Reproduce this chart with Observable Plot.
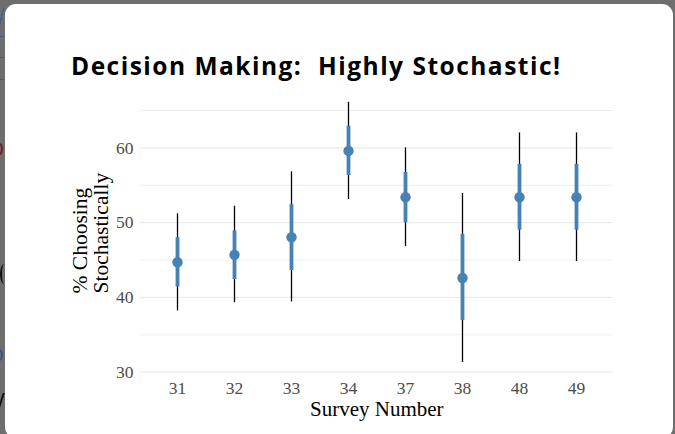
<!DOCTYPE html>
<html>
<head>
<meta charset="utf-8">
<script src="https://cdn.jsdelivr.net/npm/d3@7"></script>
<script src="https://cdn.jsdelivr.net/npm/@observablehq/plot@0.6"></script>
<style>
  html, body { margin: 0; padding: 0; }
  body { width: 675px; height: 434px; overflow: hidden; background: #6e6e6e; position: relative; font-family: "Liberation Serif", serif; }
  .frag { position: absolute; }
  #modal { position: absolute; left: 5px; top: 4px; width: 668px; height: 434px; background: #fff; border-radius: 11px; }
  #title { position: absolute; left: 71px; top: 51px; font-family: "Open Sans", sans-serif; font-weight: 700; font-size: 24.5px; line-height: 30px; white-space: pre; color: #000; display: inline-block; }
  #chart { position: absolute; left: 0; top: 84px; }
</style>
</head>
<body>
<div class="frag" style="left:0;top:8px;width:4px;height:17px;background:linear-gradient(to right,#6e6e6e 0 20%,#3f5f8c 20% 60%,#6e6e6e 60%);transform:skewX(-14deg);"></div>
<div class="frag" style="left:0;top:36px;width:4px;height:1px;background:#3d5d8a;"></div>
<div class="frag" style="left:0;top:57px;width:4px;height:1px;background:#3d5d8a;"></div>
<div class="frag" style="left:0;top:79px;width:4px;height:1px;background:#3d5d8a;"></div>
<div class="frag" style="left:-4px;top:143px;width:7px;height:12px;border:2px solid #6e1f2a;border-radius:50%;box-sizing:border-box;"></div>
<div class="frag" style="left:0;top:264px;width:8px;height:20px;border-left:2px solid #111;border-radius:50%;box-sizing:border-box;"></div>
<div class="frag" style="left:-5px;top:349px;width:8px;height:12px;border:2px solid #2f5587;border-radius:50%;box-sizing:border-box;"></div>
<div class="frag" style="left:0;top:393px;width:2px;height:17px;background:#111;transform:skewX(-18deg);"></div>
<div id="modal"></div>
<div id="title">Decision Making:  Highly Stochastic!</div>
<div id="chart"></div>
<script>
const surveys = ["31", "32", "33", "34", "37", "38", "48", "49"];
const estimate = [44.7, 45.7, 48.05, 59.6, 53.4, 42.6, 53.4, 53.4];
const innerLow = [41.4, 42.4, 43.6, 56.3, 50.0, 36.9, 49.0, 49.0];
const innerHigh = [48.0, 48.9, 52.4, 62.9, 56.7, 48.4, 57.8, 57.8];
const outerLow = [38.2, 39.3, 39.4, 53.1, 46.8, 31.3, 44.8, 44.8];
const outerHigh = [51.2, 52.2, 56.8, 66.1, 60.0, 53.9, 62.0, 62.0];
const majorTicks = [30, 40, 50, 60];
const minorTicks = [35, 45, 55, 65];
const titleText = "Decision Making:  Highly Stochastic!";
const xTitle = "Survey Number";
const yTitle1 = "% Choosing";
const yTitle2 = "Stochastically";

const data = surveys.map((s, i) => ({
  survey: s, est: estimate[i], lo: innerLow[i], hi: innerHigh[i], lo2: outerLow[i], hi2: outerHigh[i]
}));

const blue = "#4682b4";

const chart = Plot.plot({
  width: 675,
  height: 350,
  marginLeft: 140,
  marginRight: 62.4,
  marginTop: 3.57,
  marginBottom: 54.8,
  style: { background: "transparent", fontFamily: "Liberation Serif, serif" },
  x: { type: "point", domain: surveys, padding: 0.6, axis: null },
  y: { domain: [29, 68], axis: null },
  marks: [
    Plot.ruleY(minorTicks, { stroke: "#ededed", strokeWidth: 1 }),
    Plot.ruleY(majorTicks, { stroke: "#ebebeb", strokeWidth: 1.2 }),
    Plot.axisY(majorTicks, { tickSize: 0, tickPadding: 7, fontSize: 17.5, fill: "#4d4d4d", label: null }),
    Plot.axisX({ tickSize: 0, tickPadding: 1.5, fontSize: 17.5, fill: "#4d4d4d", label: null }),
    Plot.ruleX(data, { x: "survey", y1: "lo2", y2: "hi2", stroke: "#000", strokeWidth: 1.3 }),
    Plot.ruleX(data, { x: "survey", y1: "lo", y2: "hi", stroke: blue, strokeWidth: 3.8 }),
    Plot.dot(data, { x: "survey", y: "est", r: 5.2, fill: blue, stroke: null }),
    Plot.text([xTitle], { text: d => d, frameAnchor: "bottom", lineAnchor: "bottom", dy: 36.3, fontSize: 21, fill: "#000" }),
    Plot.text([yTitle1], { text: d => d, frameAnchor: "left", rotate: -90, textAnchor: "start", lineAnchor: "bottom", dx: -53.5, dy: 59.6, fontSize: 21.5, fill: "#000" }),
    Plot.text([yTitle2], { text: d => d, frameAnchor: "left", rotate: -90, textAnchor: "start", lineAnchor: "bottom", dx: -33, dy: 59.6, fontSize: 21.5, fill: "#000" })
  ]
});
document.getElementById("chart").appendChild(chart);

const t = document.getElementById("title");
t.textContent = titleText;
const w = t.getBoundingClientRect().width;
const target = 489;
t.style.letterSpacing = ((target - w) / (titleText.length - 1)) + "px";
</script>
</body>
</html>
